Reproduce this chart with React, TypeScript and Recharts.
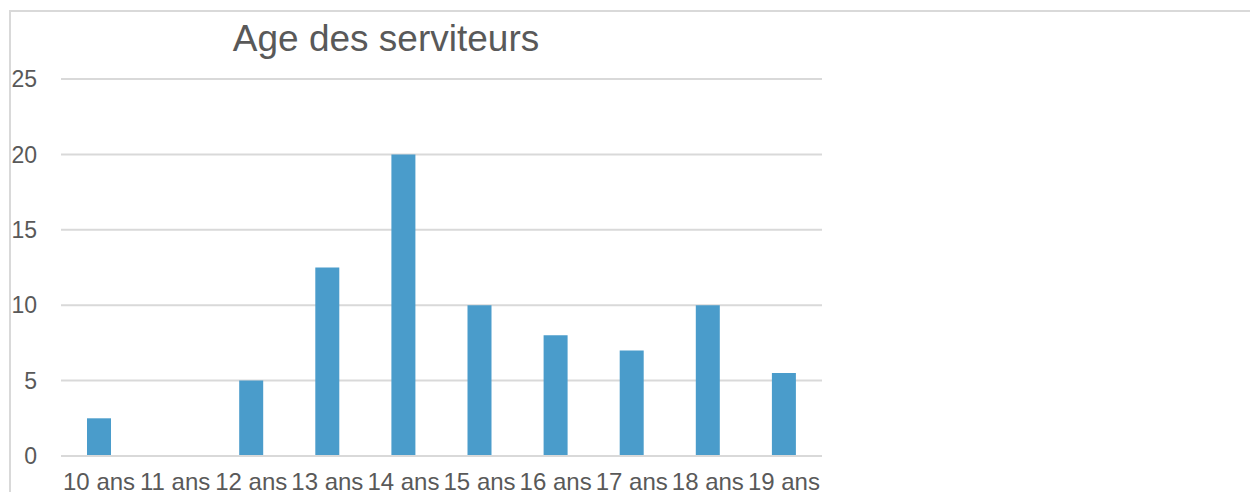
import { BarChart, Bar, XAxis, YAxis, CartesianGrid } from 'recharts'

const categories = ['10 ans', '11 ans', '12 ans', '13 ans', '14 ans', '15 ans', '16 ans', '17 ans', '18 ans', '19 ans']
const values = [2.5, 0, 5, 12.5, 20, 10, 8, 7, 10, 5.5]
const yTicks = [0, 5, 10, 15, 20, 25]

const data = categories.map((c, i) => ({ age: c, value: values[i] }))

const FONT = '"Liberation Sans", Arial, sans-serif'
const TEXT = '#595959'
const GRID = '#d9d9d9'

export default function App() {
  return (
    <div style={{ position: 'fixed', left: 0, top: 0, width: 1250, height: 492, overflow: 'hidden', background: '#fff' }}>
      <div style={{ position: 'absolute', left: 9, top: 10, width: 1400, height: 700, borderTop: `2px solid ${GRID}`, borderLeft: `2px solid ${GRID}` }} />
      <div style={{ position: 'absolute', left: 0, top: 0 }}>
        <BarChart width={1250} height={492} data={data} margin={{ top: 79, right: 428, bottom: 0, left: 0 }}>
          <CartesianGrid vertical={false} stroke={GRID} strokeWidth={2} />
          <XAxis dataKey="age" height={36} interval={0} tickLine={false} tickSize={0} tickMargin={17}
            axisLine={{ stroke: GRID, strokeWidth: 2 }}
            tick={{ fontSize: 24, fill: TEXT, fontFamily: FONT }} />
          <YAxis width={61} domain={[0, 25]} ticks={yTicks} interval={0} axisLine={false} tickLine={false}
            tickSize={0} tickMargin={24}
            tick={{ fontSize: 23, fill: TEXT, fontFamily: FONT }} />
          <Bar dataKey="value" fill="#4a9ccb" barSize={24} isAnimationActive={false} />
        </BarChart>
      </div>
      <svg style={{ position: 'absolute', left: 0, top: 0 }} width={1250} height={80}>
        <text x={386} y={51} textAnchor="middle" fontSize={37} fill={TEXT} fontFamily={FONT}>Age des serviteurs</text>
      </svg>
    </div>
  )
}
